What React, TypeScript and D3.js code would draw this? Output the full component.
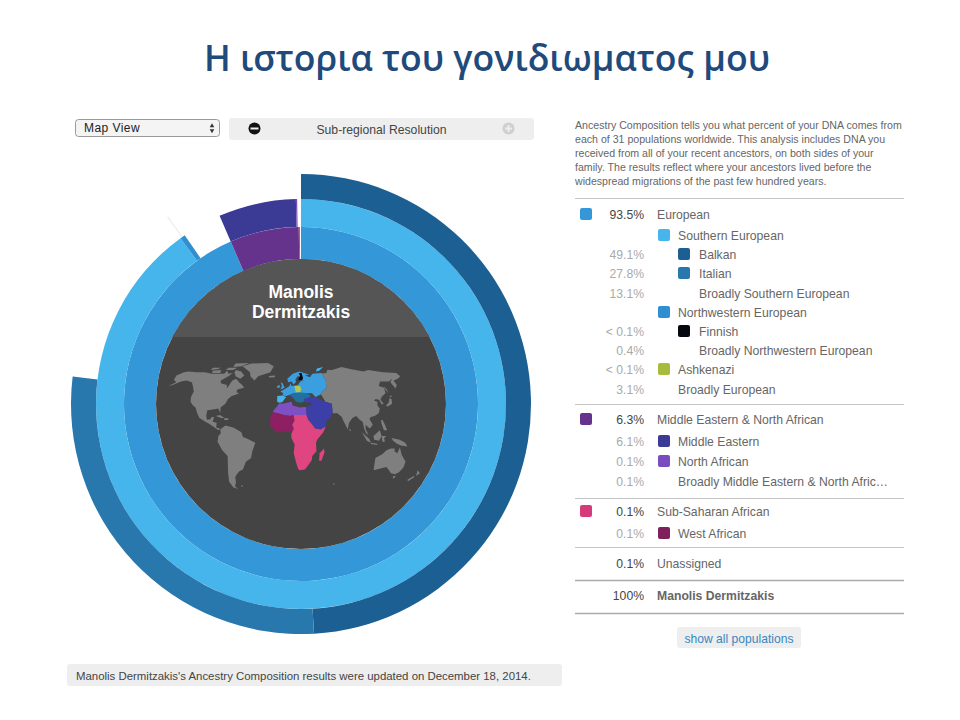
import React, { useEffect, useRef } from 'react'
import * as d3 from 'd3'

// ring values, percent of genome, clockwise from 12 o'clock. null colour = nothing drawn
const regionValues = [93.5, 6.3, 0.1, 0.1]
const regionColors = ['#3498d8', '#65338c', '#d63a78', null]
const subRegionValues = [90.0, 0.4, 3.1, 6.1, 0.1, 0.3]
const subRegionColors = ['#46b5ec', '#2f8fd0', null, '#3b3b96', '#7a4cc0', null]
const populationValues = [49.1, 27.8, 13.2, 0.1, 9.8]
const populationColors = ['#1c5f92', '#2878ae', null, '#eeeeee', null]
const ringRadii = [145, 177, 205, 230]

const introLines = [
  'Ancestry Composition tells you what percent of your DNA comes from',
  'each of 31 populations worldwide. This analysis includes DNA you',
  'received from all of your recent ancestors, on both sides of your',
  'family. The results reflect where your ancestors lived before the',
  'widespread migrations of the past few hundred years.',
]

const rowPercents = ['93.5%', '', '49.1%', '27.8%', '13.1%', '', '< 0.1%', '0.4%', '< 0.1%', '3.1%', '6.3%', '6.1%', '0.1%', '0.1%', '0.1%', '0.1%', '0.1%', '100%']
const rowNames = ['European', 'Southern European', 'Balkan', 'Italian', 'Broadly Southern European', 'Northwestern European', 'Finnish', 'Broadly Northwestern European', 'Ashkenazi', 'Broadly European', 'Middle Eastern & North African', 'Middle Eastern', 'North African', 'Broadly Middle Eastern & North Afric…', 'Sub-Saharan African', 'West African', 'Unassigned', 'Manolis Dermitzakis']
const rowLevels = [0, 1, 2, 2, 2, 1, 2, 2, 1, 1, 0, 1, 1, 1, 0, 1, 0, 0]
const rowColors = ['#3498d8', '#46b5ec', '#1c5f92', '#2878ae', null, '#2f8fd0', '#05080f', null, '#a6bd3c', null, '#65338c', '#3b3b96', '#7a4cc0', null, '#d63a78', '#7f1f5c', null, null]
const rowY = [214, 235, 254, 273, 293, 312, 331, 350, 369, 389, 419, 441, 461, 481, 511, 533, 563, 595]
const ruleY = [198, 404, 498, 547, 580, 613]

// land outlines, [lon, lat]
const greyLand: [number, number][][] = [
  // north america
  [[-168, 66], [-162, 70], [-156, 71], [-141, 70], [-128, 70], [-115, 68], [-108, 68], [-95, 68], [-94, 72], [-88, 68], [-82, 69], [-86, 65], [-94, 60], [-92, 57], [-82, 55], [-80, 51], [-79, 54], [-77, 60], [-72, 62], [-66, 58], [-60, 55], [-56, 52], [-65, 50], [-65, 47], [-61, 46], [-66, 44], [-70, 43], [-74, 40], [-76, 35], [-81, 31], [-80, 25], [-82, 28], [-84, 30], [-90, 29], [-97, 28], [-97, 22], [-95, 18], [-91, 19], [-90, 21], [-87, 21], [-88, 16], [-83, 15], [-83, 10], [-78, 9], [-80, 7], [-85, 10], [-92, 14], [-97, 16], [-105, 20], [-109, 25], [-113, 31], [-117, 33], [-122, 37], [-124, 42], [-124, 48], [-130, 54], [-135, 58], [-145, 60], [-152, 59], [-160, 55], [-165, 54], [-158, 58], [-165, 61]],
  [[-80, 73], [-70, 71], [-62, 66], [-66, 62], [-75, 65], [-80, 70]],
  [[-118, 72], [-105, 73], [-102, 69], [-115, 69]],
  [[-95, 76], [-80, 76], [-85, 73], [-97, 73]],
  [[-90, 82], [-65, 83], [-75, 78], [-88, 77]],
  [[-122, 76], [-108, 76], [-112, 74], [-122, 73]],
  // greenland
  [[-73, 78], [-60, 82], [-30, 83], [-18, 78], [-22, 70], [-40, 65], [-44, 60], [-52, 65], [-55, 70], [-68, 76]],
  // caribbean
  [[-85, 22], [-80, 23], [-74, 20], [-78, 20]],
  [[-74, 20], [-69, 19.5], [-69, 18], [-74, 18]],
  // south america
  [[-78, 8], [-72, 12], [-62, 10], [-52, 5], [-50, 0], [-44, -2], [-35, -6], [-39, -15], [-41, -22], [-48, -26], [-53, -34], [-58, -36], [-62, -39], [-65, -42], [-66, -48], [-69, -52], [-66, -55], [-72, -53], [-75, -47], [-73, -37], [-70, -20], [-76, -14], [-81, -5], [-80, 1], [-77, 4]],
  [[-60, -51], [-58, -51], [-58, -52.5], [-60, -52.5]],
  // iceland
  [[-24, 65.5], [-14, 66], [-14, 64], [-22, 63.5]],
  // asia
  [[55, 68], [68, 69], [72, 73], [80, 73], [100, 77], [113, 74], [130, 71], [140, 73], [160, 70], [180, 69], [180, 65], [172, 62], [163, 60], [162, 55], [156, 51], [156, 58], [163, 62], [155, 59], [142, 59], [135, 54], [141, 52], [138, 46], [130, 42], [127, 39], [129, 35], [126, 34], [125, 39], [121, 40], [118, 38], [122, 37], [120, 33], [122, 30], [119, 25], [113, 22], [108, 21], [106, 19], [109, 13], [105, 9], [100, 13], [100, 8], [103, 2], [100, 4], [98, 9], [97, 16], [94, 18], [90, 22], [85, 20], [80, 15], [78, 8], [73, 18], [72, 21], [67, 25], [61, 25], [62, 35], [54, 37], [50, 45], [52, 48], [60, 52], [62, 60], [60, 69]],
  // islands of east asia
  [[131, 33], [136, 36], [140, 41], [142, 40], [140, 35], [133, 32]],
  [[140, 42], [145, 44], [143, 42]],
  [[142, 54], [143, 50], [142, 46], [141, 50]],
  [[120, 18], [122, 18], [124, 13], [126, 7], [122, 7], [120, 14]],
  [[95, 5], [104, -2], [106, -6], [101, -4]],
  [[106, -6], [114, -7], [114, -8.5], [106, -7.5]],
  [[109, 1], [117, 7], [119, 1], [116, -4], [110, -3]],
  [[119, 1], [125, 1], [122, -1], [123, -5], [120, -5]],
  [[131, -1], [141, -3], [148, -6], [151, -10], [143, -9], [138, -7], [133, -4]],
  [[80, 9], [82, 7], [81, 6], [80, 7]],
  // australia and new zealand
  [[114, -22], [122, -18], [126, -14], [131, -12], [136, -12], [136, -15], [140, -17], [142, -11], [146, -19], [153, -26], [153, -32], [150, -37], [146, -39], [140, -38], [136, -35], [131, -31.5], [124, -33], [116, -35], [115, -31]],
  [[145, -41], [148, -41], [148, -43], [146, -43.5]],
  [[173, -35], [178, -38], [175, -41], [174, -38]],
  [[172, -41], [174, -42], [169, -46.5], [167, -45]],
  // kerguelen
  [[68, -49], [70, -49], [70, -50], [68, -50]],
]

const northWestEurope: [number, number][][] = [
  [[-2, 43.5], [-1, 46], [-5, 48], [-1, 49.5], [4, 52], [8, 54], [9, 57], [11, 54], [20, 55], [24, 59], [30, 60], [23, 60], [22, 63], [25, 65], [21, 65], [17, 61], [18, 59], [14, 55.5], [11, 59], [6, 58], [5, 62], [14, 68], [25, 71], [40, 67], [33, 66], [40, 64], [45, 68], [60, 69], [62, 60], [60, 52], [52, 48], [50, 45], [42, 42], [38, 46], [30, 46], [20, 46], [13, 46], [7, 44], [3, 43]],
  [[-5, 58], [-2, 57], [1, 52], [-5, 50], [-3, 54]],
  [[-10, 54], [-6, 55], [-6, 52], [-10, 52]],
]
const iberia: [number, number][][] = [
  [[-9, 43], [-2, 43.5], [3, 42], [0, 39], [-2, 36.7], [-6, 36], [-9, 37]],
  [[52, 71], [56, 75], [68, 77], [58, 72]],
]
const italyBalkans: [number, number][][] = [
  [[8, 44], [13, 46], [20, 47], [32, 46], [36, 43], [28, 38], [22, 36], [16, 37], [12, 41]],
]
const finland: [number, number][][] = [[[22, 60], [27, 60.5], [29, 63], [28, 69], [24, 69], [25, 65], [22, 63]]]
const ashkenaziZone: [number, number][][] = [[[15, 54], [23, 54], [24, 50], [22, 47], [16, 47]]]
const middleEast: [number, number][][] = [
  [[26, 40], [35, 42], [42, 42], [50, 38], [54, 37], [62, 35], [61, 25], [59, 22], [52, 16], [51, 11], [45, 8], [38, 9], [34, 14], [30, 18], [28, 23], [28, 31.5], [35, 33], [36, 36], [27, 36.5]],
]
const northAfrica: [number, number][][] = [
  [[-6, 35.5], [-2, 35], [10, 37], [11, 33], [20, 31], [28, 31.5], [28, 23], [12, 23], [8, 22], [0, 23], [-8, 25], [-14, 26], [-13, 28], [-9, 32]],
]
const westAfrica: [number, number][][] = [
  [[-14, 26], [-8, 25], [0, 23], [8, 22], [12, 23], [13, 17], [10, 13], [12, 9], [10, 5], [5, 6], [-4, 5], [-8, 4.5], [-13, 8], [-17, 12], [-17, 21]],
]
const subSaharan: [number, number][][] = [
  [[12, 23], [28, 23], [30, 18], [34, 14], [38, 9], [45, 8], [51, 11], [48, 5], [41, -2], [39, -6], [40, -15], [35, -20], [35, -24], [32, -28], [27, -34], [20, -35], [18, -33], [15, -26], [12, -17], [13, -8], [9, -1], [9, 4], [10, 5], [12, 9], [10, 13], [13, 17]],
  [[49, -12], [50, -16], [47, -25], [44, -25], [44, -17]],
]

const FONT = '"Liberation Sans", Arial, sans-serif'

export default function App() {
  const svgRef = useRef<SVGSVGElement>(null)

  useEffect(() => {
    if (!svgRef.current) return
    const svg = d3.select(svgRef.current)
    svg.selectAll('*').remove()
    svg.style('font-family', FONT)

    svg.append('text')
      .attr('x', 487)
      .attr('y', 71)
      .attr('text-anchor', 'middle')
      .attr('textLength', 566)
      .attr('lengthAdjust', 'spacingAndGlyphs')
      .style('font-family', '"Open Sans", sans-serif')
      .style('font-size', '36px')
      .style('font-weight', '600')
      .style('fill', '#1f4a7c')
      .text('Η ιστορια του γονιδιωματος μου')

    // controls
    svg.append('rect').attr('x', 75.5).attr('y', 119.5).attr('width', 144).attr('height', 17).attr('rx', 3)
      .attr('fill', '#f4f4f4').attr('stroke', '#999')
    svg.append('text').attr('x', 84).attr('y', 132).style('font-size', '12px').style('letter-spacing', '0.45px').style('fill', '#222').text('Map View')
    svg.append('path').attr('d', d3.symbol(d3.symbolTriangle, 9)()!).attr('transform', 'translate(212,126)').attr('fill', '#333')
    svg.append('path').attr('d', d3.symbol(d3.symbolTriangle, 9)()!).attr('transform', 'translate(212,130.5) rotate(180)').attr('fill', '#333')

    svg.append('rect').attr('x', 229).attr('y', 118).attr('width', 305).attr('height', 22).attr('rx', 3).attr('fill', '#eeeeee')
    svg.append('text').attr('x', 381.5).attr('y', 133.5).attr('text-anchor', 'middle').style('font-size', '12.2px').style('fill', '#444').text('Sub-regional Resolution')
    svg.append('circle').attr('cx', 254.5).attr('cy', 128.5).attr('r', 6).attr('fill', '#111')
    svg.append('rect').attr('x', 250.5).attr('y', 127.5).attr('width', 8).attr('height', 2).attr('fill', '#eee')
    svg.append('circle').attr('cx', 508.5).attr('cy', 128.5).attr('r', 6).attr('fill', '#cfcfcf')
    svg.append('path').attr('d', 'M505 128.5h7M508.5 125v7').attr('stroke', '#eee').attr('stroke-width', 2)

    // sunburst
    const cx = 301
    const cy = 404
    const chart = svg.append('g').attr('transform', `translate(${cx},${cy})`)
    const angle = d3.scaleLinear().domain([0, 100]).range([0, 2 * Math.PI])
    const arc = d3.arc()

    const drawRing = (values: number[], colors: (string | null)[], inner: number, outer: number) => {
      const stops = [0, ...d3.cumsum(values)]
      values.forEach((_, i) => {
        if (!colors[i]) return
        chart.append('path')
          .attr('d', arc({
            innerRadius: inner,
            outerRadius: outer,
            startAngle: angle(stops[i]),
            endAngle: angle(stops[i + 1]),
          })!)
          .attr('fill', colors[i]!)
      })
    }
    drawRing(regionValues, regionColors, ringRadii[0], ringRadii[1])
    drawRing(subRegionValues, subRegionColors, ringRadii[1], ringRadii[2])
    drawRing(populationValues, populationColors, ringRadii[2], ringRadii[3])

    // centre disc with the map
    const r = ringRadii[0]
    svg.append('clipPath').attr('id', 'disc').append('circle').attr('cx', cx).attr('cy', cy).attr('r', r)
    const disc = svg.append('g').attr('clip-path', 'url(#disc)')
    disc.append('rect').attr('x', cx - r).attr('y', cy - r).attr('width', 2 * r).attr('height', 2 * r).attr('fill', '#444444')
    disc.append('rect').attr('x', cx - r).attr('y', cy - r).attr('width', 2 * r).attr('height', 78).attr('fill', '#555555')

    const projection = d3.geoNaturalEarth1().scale(54).translate([284, 437])
    const outline = d3.line<[number, number]>()
      .x((d) => projection(d)![0])
      .y((d) => projection(d)![1])
      .curve(d3.curveLinearClosed)
    const drawLand = (rings: [number, number][][], color: string) => {
      disc.append('g').selectAll('path').data(rings).join('path')
        .attr('d', (d) => outline(d))
        .attr('fill', color)
    }
    drawLand(greyLand, '#7f7f7f')
    drawLand(northWestEurope, '#3b9fdf')
    drawLand(iberia, '#46b5ec')
    drawLand(italyBalkans, '#22709f')
    drawLand(ashkenaziZone, '#b4c84c')
    drawLand(finland, '#05080f')
    drawLand(middleEast, '#3d3fa8')
    drawLand(northAfrica, '#7f50c4')
    drawLand(westAfrica, '#8e1f63')
    drawLand(subSaharan, '#df4580')

    svg.selectAll('text.who').data(['Manolis', 'Dermitzakis']).join('text')
      .attr('class', 'who')
      .attr('x', cx)
      .attr('y', (_, i) => 298 + i * 20)
      .attr('text-anchor', 'middle')
      .style('font-size', '17.5px')
      .style('font-weight', '700')
      .style('fill', '#fff')
      .text((d) => d)

    // intro text
    svg.selectAll('text.intro').data(introLines).join('text')
      .attr('class', 'intro')
      .attr('x', 575)
      .attr('y', (_, i) => 129 + i * 14)
      .style('font-size', '10.6px')
      .style('fill', '#666')
      .text((d) => d)

    // table
    svg.selectAll('line.rule').data(ruleY).join('line')
      .attr('class', 'rule')
      .attr('x1', 575).attr('x2', 904)
      .attr('y1', (d) => d + 0.5).attr('y2', (d) => d + 0.5)
      .attr('stroke', (_, i) => (i > 3 ? '#aaa' : '#c4c4c4'))
      .attr('stroke-width', (_, i) => (i > 3 ? 1.5 : 1))

    const nameX = [657, 678, 699]
    const swatchX = [580, 658, 678]
    const rows = svg.append('g').selectAll('g').data(rowNames).join('g')
    rows.append('text')
      .attr('x', 644)
      .attr('y', (_, i) => rowY[i] + 5)
      .attr('text-anchor', 'end')
      .style('font-size', '12.2px')
      .style('fill', (_, i) => (rowLevels[i] === 0 ? '#444' : '#aaa'))
      .text((_, i) => rowPercents[i])
    rows.append('text')
      .attr('x', (_, i) => nameX[rowLevels[i]])
      .attr('y', (_, i) => rowY[i] + 5)
      .style('font-size', '12.2px')
      .style('font-weight', (_, i) => (i === rowNames.length - 1 ? '700' : '400'))
      .style('fill', '#666')
      .text((d) => d)
    rows.filter((_, i) => !!rowColors[i]).append('rect')
      .attr('x', (d) => swatchX[rowLevels[rowNames.indexOf(d)]])
      .attr('y', (d) => rowY[rowNames.indexOf(d)] - 6)
      .attr('width', 12)
      .attr('height', 12)
      .attr('rx', 2)
      .attr('fill', (d) => rowColors[rowNames.indexOf(d)]!)

    // button and footer
    svg.append('rect').attr('x', 677).attr('y', 627).attr('width', 124).attr('height', 21).attr('rx', 3).attr('fill', '#eeeeee')
    svg.append('text').attr('x', 739).attr('y', 642.5).attr('text-anchor', 'middle').style('font-size', '12.1px').style('fill', '#3a87c0').text('show all populations')
    svg.append('rect').attr('x', 67).attr('y', 664).attr('width', 495).attr('height', 22).attr('rx', 3).attr('fill', '#eeeeee')
    svg.append('text').attr('x', 76).attr('y', 679.5).style('font-size', '11.42px').style('fill', '#444')
      .text("Manolis Dermitzakis's Ancestry Composition results were updated on December 18, 2014.")
  }, [])

  return (
    <svg
      ref={svgRef}
      width={960}
      height={720}
      style={{ position: 'absolute', left: 0, top: 0, background: '#fff' }}
    />
  )
}
